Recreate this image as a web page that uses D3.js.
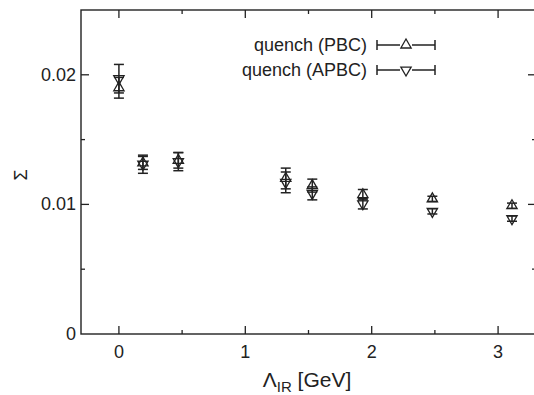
<!DOCTYPE html>
<html>
<head>
<meta charset="utf-8">
<script src="https://cdn.jsdelivr.net/npm/d3@7"></script>
<style>
  body { margin: 0; background: #fff; }
  svg { display: block; font-family: "Liberation Sans", Arial, sans-serif; }
</style>
</head>
<body>
<div id="chart"></div>
<script>
//cutoff values (GeV)
const lambdaIR = [0, 0.19, 0.47, 1.32, 1.53, 1.93, 2.48, 3.11];

//Sigma values with errors
const pbcValues = [0.0190, 0.0132, 0.0134, 0.0120, 0.01145, 0.01075, 0.01043, 0.0099];
const pbcErrors = [0.0008, 0.0005, 0.0006, 0.0008, 0.0005, 0.0004, 0.0002, 0.0002];
const apbcValues = [0.0197, 0.0131, 0.0133, 0.0117, 0.01085, 0.01005, 0.00946, 0.0089];
const apbcErrors = [0.0011, 0.0007, 0.0007, 0.0008, 0.0005, 0.0004, 0.0002, 0.0002];

const seriesNames = ["quench (PBC)", "quench (APBC)"];

const xTicks = [0, 1, 2, 3];
const xMinor = [0.5, 1.5, 2.5];
const yTicks = [0, 0.01, 0.02];
const yMinor = [0.005, 0.015, 0.025];

const width = 534, height = 395;
const margin = { top: 10, right: -2, bottom: 61, left: 81 };

const svg = d3.select("#chart").append("svg")
  .attr("width", width)
  .attr("height", height);

const x = d3.scaleLinear().domain([-0.3, 3.3]).range([margin.left, width - margin.right]);
const y = d3.scaleLinear().domain([0, 0.025]).range([height - margin.bottom, margin.top]);

const ink = "#222";
const fs = 18;

//frame
svg.append("rect")
  .attr("x", x(-0.3)).attr("y", y(0.025))
  .attr("width", x(3.3) - x(-0.3)).attr("height", y(0) - y(0.025))
  .attr("fill", "none").attr("stroke", ink).attr("stroke-width", 1.4);

//inward ticks on all four sides
const tickLen = 8, minorLen = 4;
function xTickLines(vals, len) {
  vals.forEach(v => {
    svg.append("line").attr("x1", x(v)).attr("x2", x(v))
      .attr("y1", y(0)).attr("y2", y(0) - len)
      .attr("stroke", ink).attr("stroke-width", 1.3);
    svg.append("line").attr("x1", x(v)).attr("x2", x(v))
      .attr("y1", y(0.025)).attr("y2", y(0.025) + len)
      .attr("stroke", ink).attr("stroke-width", 1.3);
  });
}
function yTickLines(vals, len) {
  vals.forEach(v => {
    svg.append("line").attr("x1", x(-0.3)).attr("x2", x(-0.3) + len)
      .attr("y1", y(v)).attr("y2", y(v))
      .attr("stroke", ink).attr("stroke-width", 1.3);
    svg.append("line").attr("x1", x(3.3)).attr("x2", x(3.3) - len)
      .attr("y1", y(v)).attr("y2", y(v))
      .attr("stroke", ink).attr("stroke-width", 1.3);
  });
}
xTickLines(xTicks, tickLen);
xTickLines(xMinor, minorLen);
yTickLines(yTicks.filter(v => v > 0), tickLen);
yTickLines(yMinor.filter(v => v < 0.025), minorLen);

//tick labels
svg.selectAll(".xlab").data(xTicks).enter().append("text")
  .attr("x", d => x(d)).attr("y", y(0) + 24)
  .attr("text-anchor", "middle").attr("font-size", fs).attr("fill", ink)
  .text(d => d);

svg.selectAll(".ylab").data(yTicks).enter().append("text")
  .attr("x", x(-0.3) - 5).attr("y", d => y(d) + 6)
  .attr("text-anchor", "end").attr("font-size", fs).attr("fill", ink)
  .text(d => d === 0 ? "0" : d3.format(".2f")(d));

//axis titles
const xTitle = svg.append("text")
  .attr("x", 307).attr("y", 387)
  .attr("text-anchor", "middle").attr("font-size", 21).attr("fill", ink);
xTitle.append("tspan").text("Λ");
xTitle.append("tspan").attr("dy", 5).attr("font-size", 15).text("IR");
xTitle.append("tspan").attr("dy", -5).text(" [GeV]");

svg.append("text")
  .attr("transform", `translate(27,175) rotate(-90)`)
  .attr("text-anchor", "middle").attr("font-size", fs).attr("fill", ink)
  .text("Σ");

//triangle symbols
const triUp = d3.symbol().type(d3.symbolTriangle).size(46);
function drawTri(g, cx, cy, down) {
  g.append("path")
    .attr("d", triUp())
    .attr("transform", `translate(${cx},${cy}) rotate(${down ? 180 : 0})`)
    .attr("fill", "none").attr("stroke", ink).attr("stroke-width", 1.3);
}

function drawErr(g, cx, v, e) {
  const cap = 5;
  g.append("line").attr("x1", cx).attr("x2", cx)
    .attr("y1", y(v + e)).attr("y2", y(v - e))
    .attr("stroke", ink).attr("stroke-width", 1.5);
  [v + e, v - e].forEach(t => {
    g.append("line").attr("x1", cx - cap).attr("x2", cx + cap)
      .attr("y1", y(t)).attr("y2", y(t))
      .attr("stroke", ink).attr("stroke-width", 1.5);
  });
}

const pts = svg.append("g");
const series = [
  { vals: pbcValues, errs: pbcErrors, down: false },
  { vals: apbcValues, errs: apbcErrors, down: true }
];
series.forEach(s => {
  lambdaIR.forEach((l, i) => {
    drawErr(pts, x(l), s.vals[i], s.errs[i]);
    drawTri(pts, x(l), y(s.vals[i]), s.down);
  });
});

//legend
const legend = svg.append("g");
seriesNames.forEach((name, i) => {
  const ly = 45 + i * 25;
  legend.append("text")
    .attr("x", 367).attr("y", ly + 6)
    .attr("text-anchor", "end").attr("font-size", fs).attr("fill", ink)
    .text(name);
  legend.append("line").attr("x1", 377).attr("x2", 435)
    .attr("y1", ly).attr("y2", ly).attr("stroke", ink).attr("stroke-width", 1.5);
  [377, 435].forEach(cx => {
    legend.append("line").attr("x1", cx).attr("x2", cx)
      .attr("y1", ly - 5).attr("y2", ly + 5).attr("stroke", ink).attr("stroke-width", 1.5);
  });
  legend.append("rect").attr("x", 400).attr("y", ly - 4).attr("width", 12).attr("height", 8).attr("fill", "#fff");
  drawTri(legend, 406, ly, i === 1);
});
</script>
</body>
</html>
